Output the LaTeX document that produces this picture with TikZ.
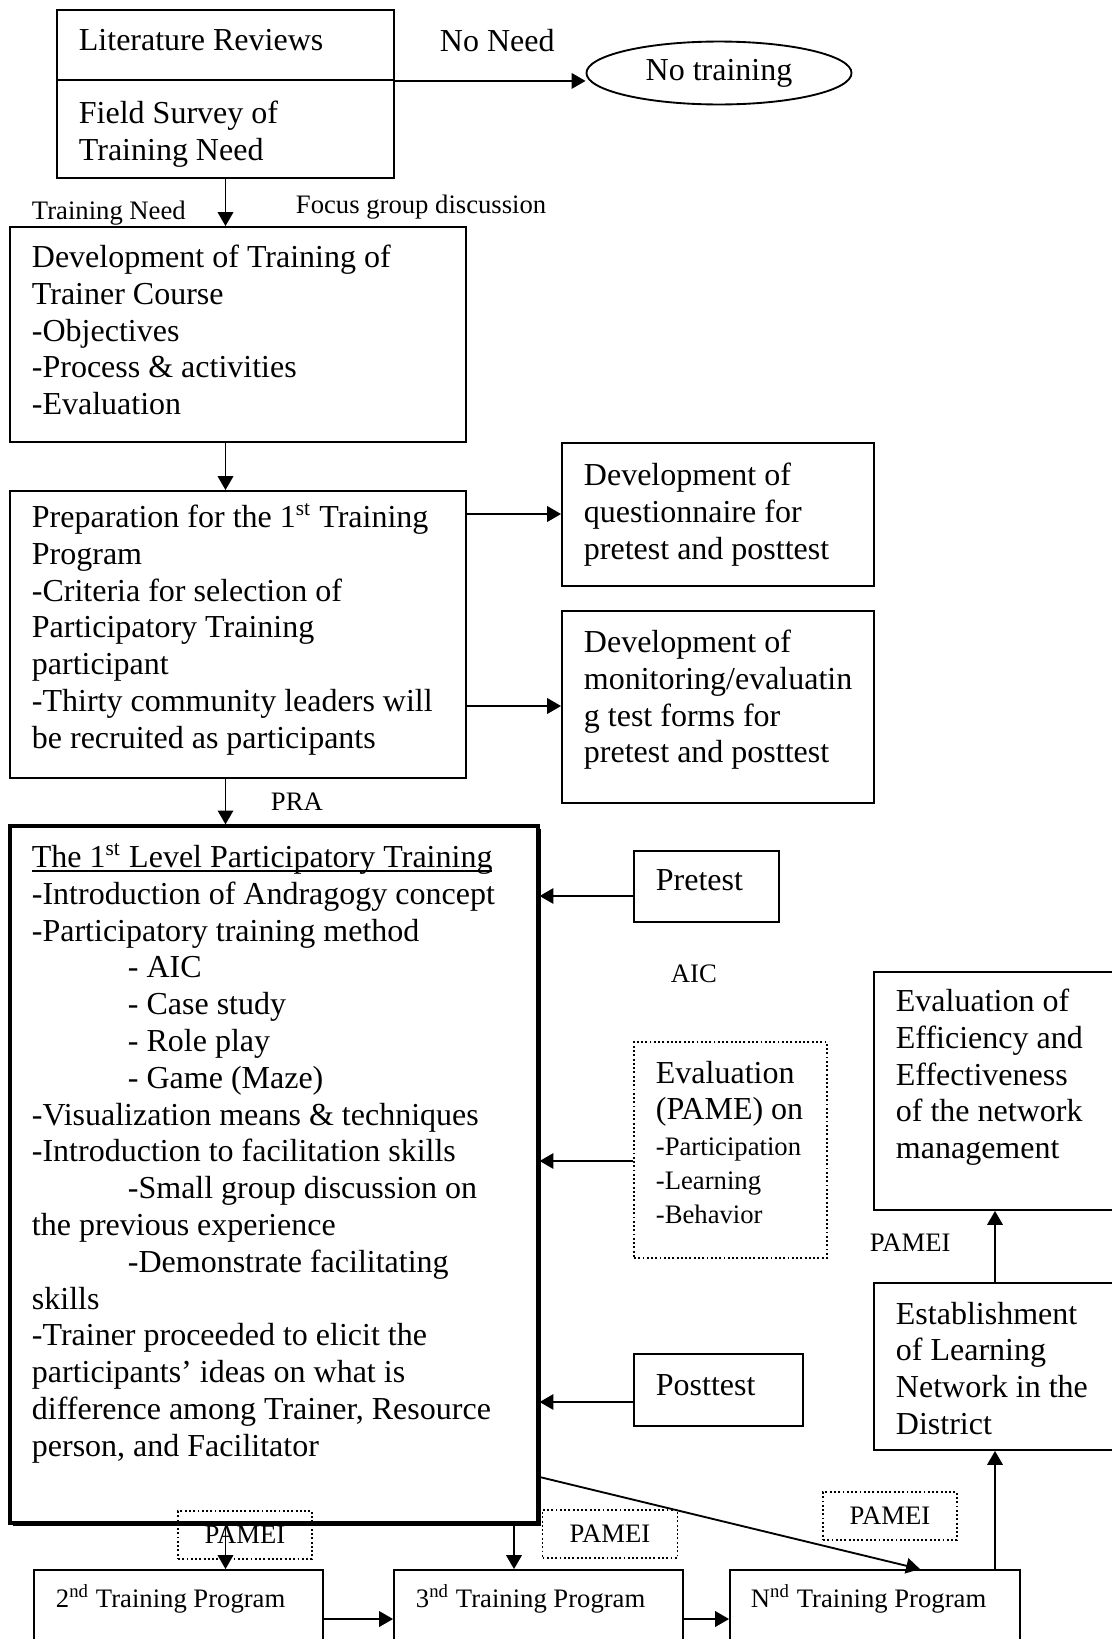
\documentclass[tikz,border=0pt]{standalone}
\usepackage{fontspec}
\setmainfont{Liberation Serif}
\usetikzlibrary{arrows.meta,fit,shapes.geometric,shadows}
\newcommand{\ulbox}[1]{\setbox0=\hbox{#1}\rlap{\rule[-1.6pt]{\wd0}{0.6pt}}\box0}

\begin{document}
\begin{tikzpicture}[x=0.375pt,y=-0.375pt,>={Triangle[length=5.2pt,width=5.8pt]},line width=0.7pt,font=\fontsize{12}{13.8}\selectfont,
  box/.style={draw,inner sep=0pt},
  dotbox/.style={draw,inner sep=0pt,line width=0.5pt,dash pattern=on 0.7pt off 0.9pt},
  txt/.style={anchor=north west,inner sep=0pt,align=left},
  small/.style={font=\fontsize{10}{12.75}\selectfont}]
\useasboundingbox (0,0) rectangle (1112,1639);
\node[box,fit={(57,10) (394,80)}] (litrev) {};
\node[box,fit={(57,80) (394,178)}] (survey) {};
\node[draw,ellipse,inner sep=0pt,minimum width=99.4pt,minimum height=23.6pt] (notrain) at (719,73) {No training};
\node[box,fit={(10,227) (466,442)}] (devbox) {};
\node[box,fit={(10,491) (466,778)}] (prep) {};
\node[box,fit={(562,443) (874,586)}] (quest) {};
\node[box,fit={(562,611) (874,803)}] (monitor) {};
\node[box,line width=1.2pt,fill=white,drop shadow={shadow xshift=1.2pt,shadow yshift=-1.2pt,opacity=1,fill=black},fit={(10,826) (538,1523)}] (big) {};
\node[box,fit={(634,851) (779,922)}] (pretest) {};
\node[dotbox,fit={(634,1042) (827,1258)}] (eval) {};
\node[box,fit={(634,1354) (803,1426)}] (posttest) {};
\node[box,fit={(874,972) (1116,1210)}] (effic) {};
\node[box,fit={(874,1283) (1116,1450)}] (estab) {};
\node[box,fit={(34,1570) (323,1665)}] (second) {};
\node[box,fit={(394,1570) (683,1665)}] (third) {};
\node[box,fit={(730,1570) (1020,1665)}] (nth) {};
\node[dotbox,small,minimum width=50.2pt,minimum height=18pt] (pm1) at (245,1535) {PAMEI};
\node[dotbox,small,minimum width=50.6pt,minimum height=18pt] (pm2) at (610,1534) {PAMEI};
\node[dotbox,small,minimum width=50.2pt,minimum height=18pt] (pm3) at (890,1516) {PAMEI};
\node[txt] at (78,28) {Literature Reviews};
\node[txt] at (78,100) {Field Survey of\\Training Need};
\node[txt] at (439,28) {No Need};
\node[txt,small] at (31,200) {Training Need};
\node[txt,small] at (295,194) {Focus group discussion};
\node[txt] at (31,244) {Development of Training of\\Trainer Course\\-Objectives\\-Process \& activities\\-Evaluation};
\node[txt] at (31,503) {Preparation for the 1\textsuperscript{st} Training\\Program\\-Criteria for selection of\\Participatory Training\\participant\\-Thirty community leaders will\\be recruited as participants};
\node[txt] at (583,462) {Development of\\questionnaire for\\pretest and posttest};
\node[txt] at (583,629) {Development of\\monitoring/evaluatin\\g test forms for\\pretest and posttest};
\node[txt,small] at (270,792) {PRA};
\node[txt] at (31,843) {\ulbox{The 1\textsuperscript{st} Level Participatory Training}\\-Introduction of Andragogy concept\\-Participatory training method\\\hspace*{36pt}- AIC\\\hspace*{36pt}- Case study\\\hspace*{36pt}- Role play\\\hspace*{36pt}- Game (Maze)\\-Visualization means \& techniques\\-Introduction to facilitation skills\\\hspace*{36pt}-Small group discussion on\\the previous experience\\\hspace*{36pt}-Demonstrate facilitating\\skills\\-Trainer proceeded to elicit the\\participants’ ideas on what is\\difference among Trainer, Resource\\person, and Facilitator};
\node[txt] at (655,869) {Pretest};
\node[txt,small] at (670,964) {AIC};
\node[txt] at (655,1060) {Evaluation\\(PAME) on};
\node[txt,small] at (655,1137) {-Participation\\-Learning\\-Behavior};
\node[txt] at (655,1374) {Posttest};
\node[txt] at (895,988) {Evaluation of\\Efficiency and\\Effectiveness\\of the network\\management};
\node[txt,small] at (869,1233) {PAMEI};
\node[txt] at (895,1301) {Establishment\\of Learning\\Network in the\\District};
\node[txt,small] at (55,1584) {2\textsuperscript{nd} Training Program};
\node[txt,small] at (415,1584) {3\textsuperscript{nd} Training Program};
\node[txt,small] at (750,1584) {N\textsuperscript{nd} Training Program};
\draw[->] (litrev.south east) -- (litrev.south east -| notrain.west);
\draw[->] (survey.south) -- (survey.south |- devbox.north);
\draw[->] (devbox.south -| survey.south) -- (prep.north -| survey.south);
\draw[->] (prep.east |- 0,514) -- (quest.west |- 0,514);
\draw[->] (prep.east |- 0,706) -- (monitor.west |- 0,706);
\draw[->] (prep.south -| survey.south) -- (big.north -| survey.south);
\draw[->] (pretest.west |- 0,896) -- (big.east |- 0,896);
\draw[->] (eval.west |- 0,1161) -- (big.east |- 0,1161);
\draw[->] (posttest.west |- 0,1402) -- (big.east |- 0,1402);
\draw[->] (big.south -| survey.south) -- (second.north -| survey.south);
\draw[->] (big.south -| 514,0) -- (third.north -| 514,0);
\draw[->] (big.east |- 0,1477) -- (nth.north -| 920,0);
\draw[->] (second.east |- 0,1619) -- (third.west |- 0,1619);
\draw[->] (third.east |- 0,1619) -- (nth.west |- 0,1619);
\draw[->] (nth.north -| 995,0) -- (estab.south -| 995,0);
\draw[->] (estab.north -| 995,0) -- (effic.south -| 995,0);
\end{tikzpicture}
\end{document}
